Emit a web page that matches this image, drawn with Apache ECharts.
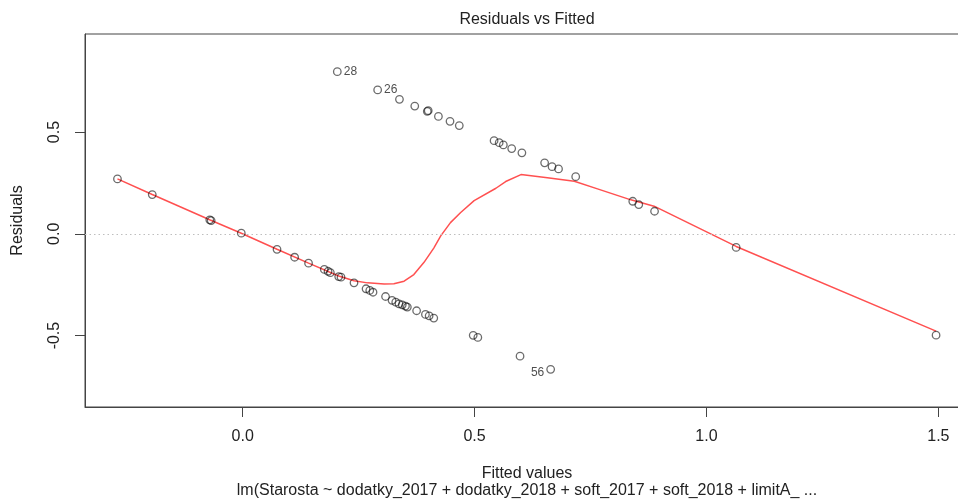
<!DOCTYPE html>
<html>
<head>
<meta charset="utf-8">
<script src="https://cdn.jsdelivr.net/npm/echarts@6/dist/echarts.min.js"></script>
<style>
  html, body { margin: 0; padding: 0; background: #fff; overflow: hidden; }
  /* plot region runs past the right edge of the 958px picture, as in the original */
  #chart { width: 970px; height: 504px; }
</style>
</head>
<body>
<div id="chart"></div>
<script>
// fitted values and residuals
const fitted = [
  -0.270, -0.195, -0.071, -0.068, -0.003, 0.074, 0.112, 0.142, 0.176, 0.184, 0.189,
  0.207, 0.212, 0.240, 0.266, 0.274, 0.281, 0.308, 0.322, 0.330, 0.337, 0.344,
  0.351, 0.355, 0.375, 0.394, 0.402, 0.412, 0.497, 0.507, 0.598, 0.664,
  0.204, 0.291, 0.338, 0.371, 0.398, 0.400, 0.422, 0.447, 0.467, 0.542, 0.553,
  0.562, 0.580, 0.602, 0.651, 0.667, 0.681, 0.718, 0.841, 0.854, 0.888,
  1.064, 1.495
]
const residuals = [
  0.270, 0.193, 0.069, 0.065, 0.003, -0.076, -0.115, -0.144, -0.175, -0.184, -0.191,
  -0.210, -0.213, -0.241, -0.270, -0.278, -0.287, -0.308, -0.327, -0.336, -0.344, -0.349,
  -0.355, -0.360, -0.378, -0.396, -0.403, -0.414, -0.499, -0.509, -0.601, -0.666,
  0.797, 0.707, 0.661, 0.628, 0.602, 0.605, 0.577, 0.553, 0.532, 0.458, 0.448,
  0.437, 0.419, 0.398, 0.349, 0.330, 0.319, 0.281, 0.160, 0.144, 0.111,
  -0.067, -0.498
]
// labelled observations: index into the arrays above
const labelIdx = [32, 33, 31]
const labelText = ['28', '26', '56']
const labelSide = ['right', 'right', 'left']

// red smoother
const smoothX = [-0.270, -0.195, -0.070, -0.003, 0.074, 0.142, 0.207, 0.240, 0.269, 0.305,
  0.326, 0.348, 0.369, 0.391, 0.412, 0.427, 0.448, 0.470, 0.499, 0.546, 0.567, 0.600,
  0.657, 0.715, 0.765, 0.837, 0.887, 1.064, 1.495]
const smoothY = [0.270, 0.193, 0.068, 0.003, -0.076, -0.144, -0.207, -0.231, -0.241, -0.247,
  -0.245, -0.233, -0.200, -0.140, -0.070, -0.010, 0.055, 0.105, 0.163, 0.224, 0.257, 0.291,
  0.275, 0.258, 0.221, 0.167, 0.136, -0.062, -0.478]

const xTicks = [0, 0.5, 1, 1.5]
const yTicks = [-0.5, 0, 0.5]

const FONT = "'Liberation Sans', Arial, sans-serif"

let points = fitted.map((x, i) => [x, residuals[i]])
let pointData = points.map((p, i) => {
  let k = labelIdx.indexOf(i)
  if (k < 0) return p
  return {
    value: p,
    label: {
      show: true,
      formatter: labelText[k],
      position: labelSide[k],
      distance: 2,
      offset: labelSide[k] === 'left' ? [0, 3] : [0, 0],
      color: '#222',
      fontSize: 12,
      fontFamily: FONT
    }
  }
})
let smoothData = smoothX.map((x, i) => [x, smoothY[i]])

const chart = echarts.init(document.getElementById('chart'))
chart.setOption({
  animation: false,
  grid: {
    left: 85, top: 34, right: 1, bottom: 97,
    show: true, borderColor: '#444', borderWidth: 1
  },
  xAxis: {
    type: 'value',
    min: -0.340,
    max: 1.566,
    name: 'Fitted values',
    nameLocation: 'middle',
    nameGap: 59,
    nameTextStyle: { fontSize: 16, color: '#222', fontFamily: FONT },
    axisLine: { show: true, onZero: false, lineStyle: { color: '#444' } },
    axisTick: { show: true, length: 10, customValues: xTicks, lineStyle: { color: '#444' } },
    axisLabel: {
      customValues: xTicks, margin: 22, fontSize: 16, color: '#222', fontFamily: FONT,
      formatter: v => v.toFixed(1)
    },
    splitLine: { show: false }
  },
  yAxis: {
    type: 'value',
    min: -0.851,
    max: 0.982,
    name: 'Residuals',
    nameLocation: 'middle',
    nameGap: 59,
    nameTextStyle: { fontSize: 16, color: '#222', fontFamily: FONT },
    axisLine: { show: true, onZero: false, lineStyle: { color: '#444' } },
    axisTick: { show: true, length: 10, customValues: yTicks, lineStyle: { color: '#444' } },
    axisLabel: {
      customValues: yTicks, rotate: 90, margin: 22, fontSize: 16, color: '#222', fontFamily: FONT,
      formatter: v => v.toFixed(1)
    },
    splitLine: { show: false }
  },
  graphic: [
    {
      type: 'text', x: 527, y: 20,
      style: { text: 'Residuals vs Fitted', align: 'center', verticalAlign: 'middle',
        fontSize: 16, fontFamily: FONT, fill: '#222' }
    },
    {
      type: 'text', x: 527, y: 491,
      style: { text: 'lm(Starosta ~ dodatky_2017 + dodatky_2018 + soft_2017 + soft_2018 + limitA_ ...',
        align: 'center', verticalAlign: 'middle', fontSize: 16, fontFamily: FONT, fill: '#222' }
    }
  ],
  series: [
    {
      type: 'scatter',
      data: pointData,
      symbol: 'circle',
      symbolSize: 7.5,
      itemStyle: { color: 'rgba(0,0,0,0)', borderColor: 'rgba(0,0,0,0.72)', borderWidth: 1.3 },
      markLine: {
        silent: true,
        symbol: 'none',
        label: { show: false },
        lineStyle: { color: '#bebebe', type: [1.5, 3], width: 1 },
        data: [{ yAxis: 0 }]
      },
      z: 3
    },
    {
      type: 'line',
      data: smoothData,
      showSymbol: false,
      lineStyle: { color: '#ff5050', width: 1.5 },
      z: 2
    }
  ]
})
</script>
</body>
</html>
